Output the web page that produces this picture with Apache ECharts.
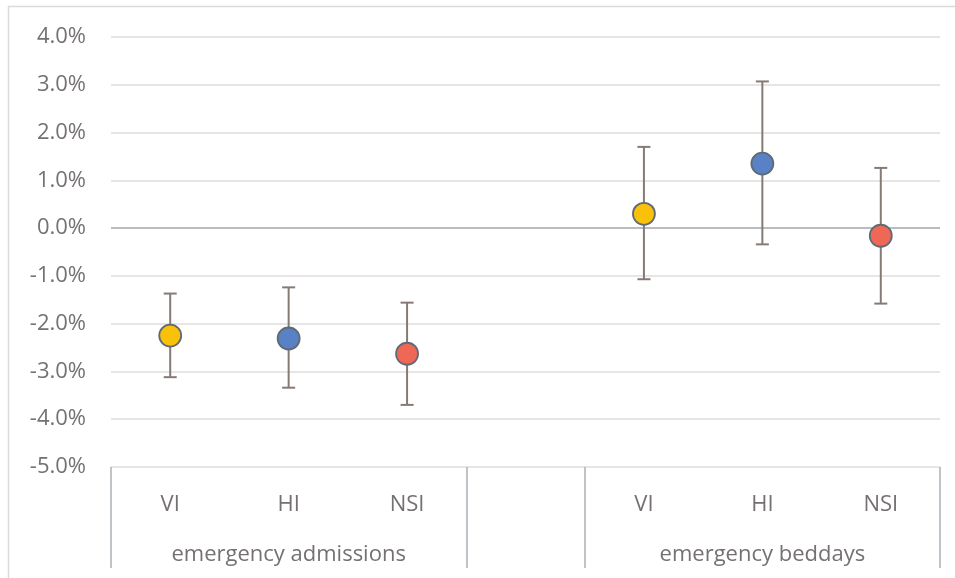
<!DOCTYPE html>
<html>
<head>
<meta charset="utf-8">
<script src="https://cdn.jsdelivr.net/npm/echarts@6/dist/echarts.min.js"></script>
<style>
html,body{margin:0;padding:0;background:#fff;}
#c{width:955px;height:578px;}
</style>
</head>
<body>
<div id="c"></div>
<script>
// ---- data ----
const categories = ['VI', 'HI', 'NSI', '', 'VI', 'HI', 'NSI'];
const groupLabels = ['', 'emergency admissions', '', '', '', 'emergency beddays', ''];
const estimates = [-2.25, -2.31, -2.63, null, 0.30, 1.35, -0.16];
const lowerCI   = [-3.12, -3.34, -3.70, null, -1.07, -0.34, -1.58];
const upperCI   = [-1.37, -1.24, -1.56, null, 1.70, 3.07, 1.26];
const yTicks = [-5, -4, -3, -2, -1, 0, 1, 2, 3, 4];
const boundaryIdx = [0, 3, 4];

// ---- style ----
const measureColor = { VI: '#FAC10A', HI: '#5881C6', NSI: '#EF6856' };
const FONT = '"Open Sans", "Noto Sans", sans-serif';
const TXT = '#767171';

const pointData = [];
const barData = [];
categories.forEach((c, i) => {
  if (estimates[i] == null) return;
  pointData.push({ value: [i, estimates[i]], itemStyle: { color: measureColor[c] } });
  barData.push([i, lowerCI[i], upperCI[i]]);
});

const chart = echarts.init(document.getElementById('c'), null, { renderer: 'canvas' });
chart.setOption({
  animation: false,
  backgroundColor: '#fff',
  graphic: [{
    type: 'rect', silent: true, z: -10,
    shape: { x: 8.5, y: 6.5, width: 970, height: 600 },
    style: { fill: 'none', stroke: '#dedad8', lineWidth: 1.5 }
  }],
  grid: { left: 111, right: 15, top: 37, bottom: 111, containLabel: false, outerBoundsMode: 'none' },
  xAxis: [{
    type: 'category',
    data: categories,
    boundaryGap: true,
    axisLine: { show: false, onZero: false },
    axisTick: {
      show: true, length: 101,
      interval: (i) => boundaryIdx.indexOf(i) >= 0,
      lineStyle: { color: '#aab1b8', width: 1.5 }
    },
    axisLabel: { interval: 0, margin: 27, color: TXT, fontFamily: FONT, fontSize: 22 },
    splitLine: { show: false }
  }, {
    type: 'category',
    position: 'bottom',
    data: groupLabels,
    boundaryGap: true,
    axisLine: { show: false, onZero: false },
    axisTick: { show: false },
    axisLabel: { interval: 0, margin: 77, color: TXT, fontFamily: FONT, fontSize: 22 },
    splitLine: { show: false }
  }],
  yAxis: {
    type: 'value',
    min: yTicks[0], max: yTicks[yTicks.length - 1], interval: 1,
    axisLine: { show: false },
    axisTick: { show: false },
    axisLabel: { margin: 25, color: TXT, fontFamily: FONT, fontSize: 22,
      formatter: (v) => v.toFixed(1) + '%' },
    splitLine: { lineStyle: { color: '#e2dddb', width: 1.5 } }
  },
  series: [{
    type: 'custom',
    xAxisIndex: 0,
    z: 3,
    data: barData,
    encode: { x: 0, y: [1, 2] },
    renderItem: (params, api) => {
      const x = api.value(0);
      const lo = api.coord([x, api.value(1)]);
      const hi = api.coord([x, api.value(2)]);
      const cap = 6.5;
      const st = { stroke: '#857a75', lineWidth: 2, fill: 'none' };
      return {
        type: 'group',
        children: [
          { type: 'line', shape: { x1: lo[0], y1: lo[1], x2: hi[0], y2: hi[1] }, style: st },
          { type: 'line', shape: { x1: lo[0] - cap, y1: lo[1], x2: lo[0] + cap, y2: lo[1] }, style: st },
          { type: 'line', shape: { x1: hi[0] - cap, y1: hi[1], x2: hi[0] + cap, y2: hi[1] }, style: st }
        ]
      };
    }
  }, {
    type: 'scatter',
    xAxisIndex: 0,
    z: 5,
    symbol: 'circle',
    symbolSize: 22,
    itemStyle: { borderColor: '#5f6b74', borderWidth: 1.8, opacity: 1 },
    data: pointData,
    markLine: {
      silent: true, symbol: 'none', z: 1,
      label: { show: false },
      lineStyle: { color: '#a7afb7', width: 1.5, type: 'solid' },
      data: [{ yAxis: 0 }]
    }
  }]
});
</script>
</body>
</html>
